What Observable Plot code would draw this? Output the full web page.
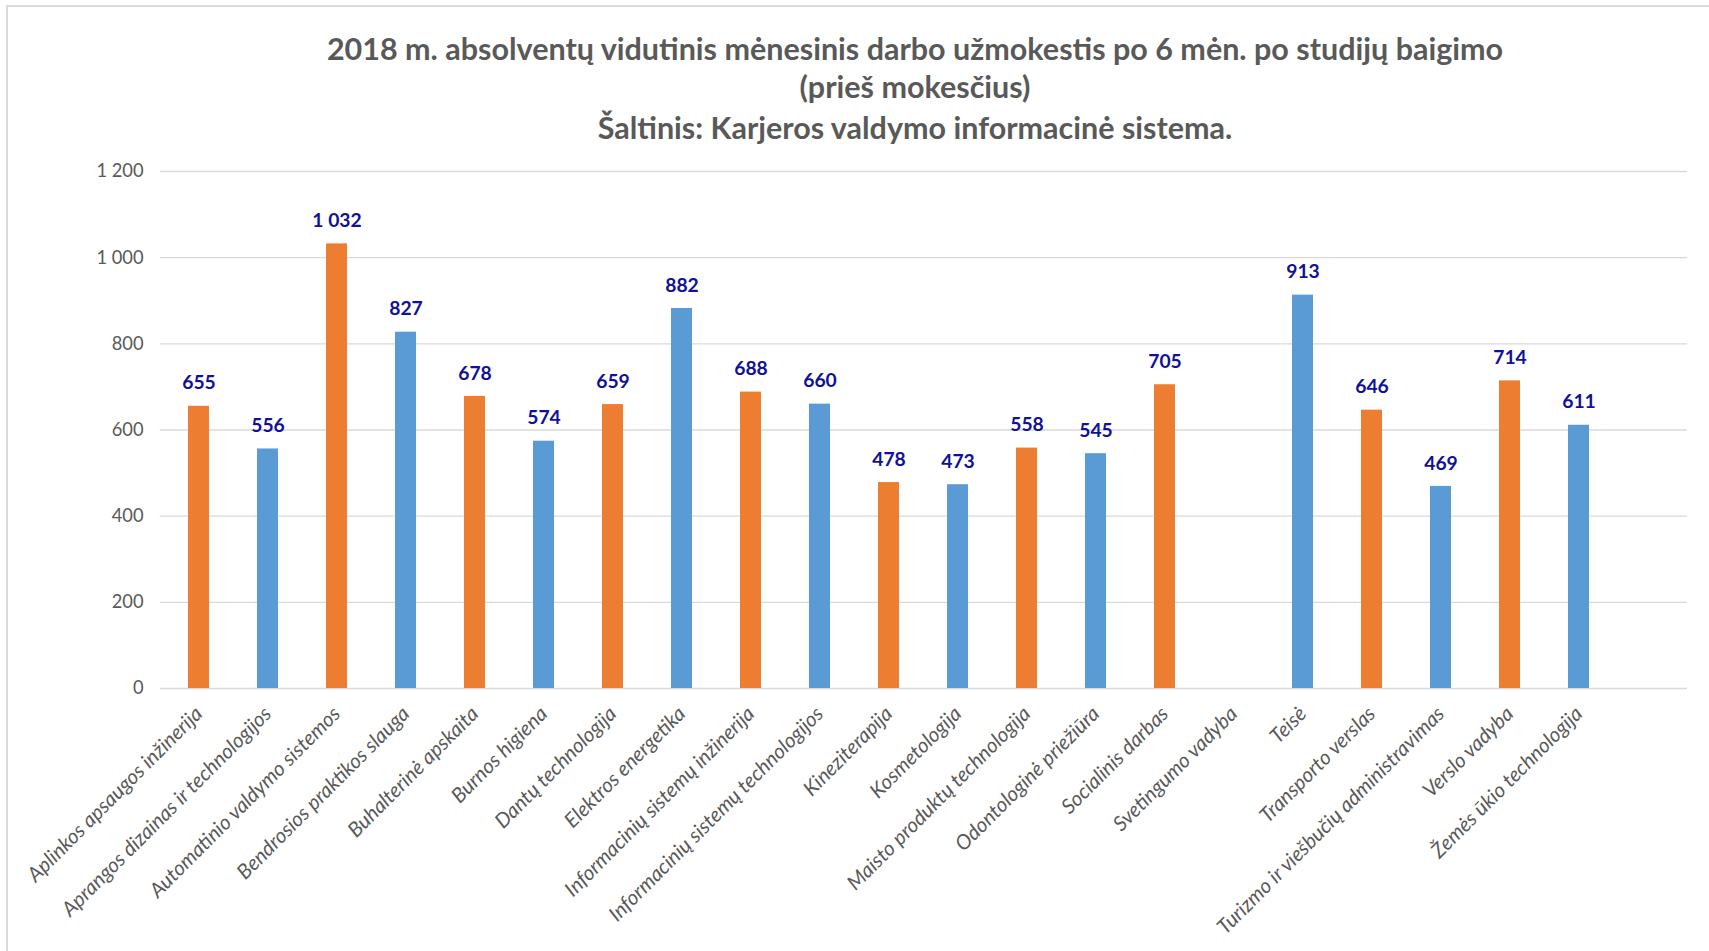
<!DOCTYPE html>
<html>
<head>
<meta charset="utf-8">
<script src="https://cdn.jsdelivr.net/npm/d3@7"></script>
<script src="https://cdn.jsdelivr.net/npm/@observablehq/plot@0.6"></script>
<style>
  html, body { margin: 0; padding: 0; background: #fff; }
  body { width: 1709px; height: 951px; position: relative; overflow: hidden; font-family: Lato, "Open Sans", sans-serif; }
  #frame { position: absolute; left: 6px; top: 5px; width: 1720px; height: 960px; border-left: 2px solid #d9d9d9; border-top: 2px solid #d9d9d9; box-sizing: border-box; }
  #title { position: absolute; left: 0; top: 0; width: 1830px; height: 150px; color: #595959; font-weight: bold; font-size: 30.5px; }
  #title div { position: absolute; left: 0; width: 1830px; text-align: center; line-height: 1; white-space: nowrap; }
  #chart { position: absolute; left: 0; top: 150px; }
  #chart g[aria-label="x-axis tick label"] text { font-style: italic; }
</style>
</head>
<body>
<div id="frame"></div>
<div id="title">
  <div style="top:33px">2018 m. absolventų vidutinis mėnesinis darbo užmokestis po 6 mėn. po studijų baigimo</div>
  <div style="top:71px">(prieš mokesčius)</div>
  <div style="top:112px">Šaltinis: Karjeros valdymo informacinė sistema.</div>
</div>
<div id="chart"></div>
<script>
const categories = [
  "Aplinkos apsaugos inžinerija",
  "Aprangos dizainas ir technologijos",
  "Automatinio valdymo sistemos",
  "Bendrosios praktikos slauga",
  "Buhalterinė apskaita",
  "Burnos higiena",
  "Dantų technologija",
  "Elektros energetika",
  "Informacinių sistemų inžinerija",
  "Informacinių sistemų technologijos",
  "Kineziterapija",
  "Kosmetologija",
  "Maisto produktų technologija",
  "Odontologinė priežiūra",
  "Socialinis darbas",
  "Svetingumo vadyba",
  "Teisė",
  "Transporto verslas",
  "Turizmo ir viešbučių administravimas",
  "Verslo vadyba",
  "Žemės ūkio technologija"
];
const values = [655, 556, 1032, 827, 678, 574, 659, 882, 688, 660, 478, 473, 558, 545, 705, null, 913, 646, 469, 714, 611];
const yTicks = [0, 200, 400, 600, 800, 1000, 1200];

const ORANGE = "#ED7D31";
const BLUE = "#5B9BD5";

// bars that have a value; colours alternate over these (blank category skipped)
const data = categories
  .map((c, i) => ({category: c, value: values[i]}))
  .filter(d => d.value != null)
  .map((d, k) => ({...d, k}));
const fmt = d3.formatLocale({thousands: "\u00a0", grouping: [3], decimal: ","}).format(",");

const chart = Plot.plot({
  width: 1709,
  height: 801,
  marginTop: 21,
  marginBottom: 263,
  marginLeft: 160,
  marginRight: 22,
  style: {fontFamily: "Lato, 'Open Sans', sans-serif", background: "transparent", overflow: "visible"},
  x: {domain: categories, range: [159, 1619], paddingInner: 0.69, paddingOuter: 0.345, label: null},
  y: {domain: [0, 1200], label: null},
  marks: [
    Plot.gridY(yTicks, {stroke: "#d9d9d9", strokeOpacity: 1, strokeWidth: 1.3}),
    Plot.axisY(yTicks, {tickSize: 0, tickPadding: 17, tickFormat: fmt, fontSize: 18.3, color: "#595959", label: null}),
    Plot.axisX({tickSize: 0, tickRotate: -45, tickPadding: 22, dx: 0, fontSize: 20.5, color: "#595959", label: null}),
    Plot.barY(data, {
      x: "category", y: "value",
      fill: d => d.k % 2 === 0 ? ORANGE : BLUE
    }),
    Plot.text(data, {
      x: "category", y: "value", text: d => fmt(d.value),
      dy: -23, fontSize: 19.3, fontWeight: "bold", fill: "#10109a"
    })
  ]
});
document.getElementById("chart").appendChild(chart);
</script>
</body>
</html>
